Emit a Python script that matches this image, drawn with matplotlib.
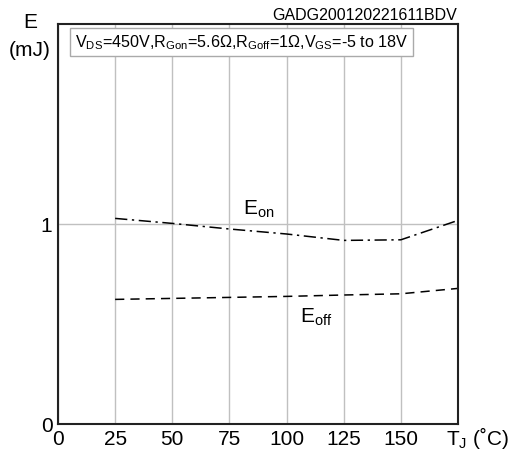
import numpy as np
import matplotlib.pyplot as plt

plt.rcParams['font.family'] = ['Liberation Sans', 'DejaVu Sans']
plt.rcParams['mathtext.fontset'] = 'custom'
plt.rcParams['mathtext.rm'] = 'Liberation Sans'
plt.rcParams['mathtext.it'] = 'Liberation Sans'

# data
tj = [25, 50, 75, 100, 125, 150, 175]
e_on = [1.028, 1.003, 0.975, 0.950, 0.918, 0.921, 1.018]
e_off = [0.623, 0.628, 0.633, 0.638, 0.645, 0.651, 0.678]
xticks = [0, 25, 50, 75, 100, 125, 150]
yticks = [0, 1]

fig = plt.figure(figsize=(5.09, 4.5), dpi=100)
ax = fig.add_axes([58/509, 26/450, 400/509, 400/450])

ax.plot(tj, e_on, color='black', lw=1.1, linestyle=(0, (8, 3, 1.5, 3)))
ax.plot(tj, e_off, color='black', lw=1.1, linestyle=(0, (6, 4)))

ax.set_xlim(0, 175)
ax.set_ylim(0, 2)
ax.set_xticks(xticks)
ax.set_yticks(yticks)
ax.tick_params(length=0, labelsize=15, pad=4)
ax.grid(color='#c0c0c0', lw=1)
for s in ax.spines.values():
    s.set_linewidth(1.5)
    s.set_color('#222222')

ax.text(81, 1.045, r'E$_{\mathrm{on}}$', fontsize=15)
ax.text(106, 0.505, r'E$_{\mathrm{off}}$', fontsize=15)

ax.text(0.042, 0.978,
        r'V$_{\mathrm{DS}}$=450V,R$_{\mathrm{Gon}}$=5.6Ω,R$_{\mathrm{Goff}}$=1Ω,V$_{\mathrm{GS}}$=-5 to 18V',
        transform=ax.transAxes, fontsize=11.6, va='top', ha='left',
        bbox=dict(boxstyle='square,pad=0.3', fc='white', ec='#aaaaaa', lw=1))

fig.text(30/509, 1 - 22/450, 'E', fontsize=15, ha='center', va='center')
fig.text(30/509, 1 - 50/450, '(mJ)', fontsize=15, ha='center', va='center')
fig.text(457/509, 1 - 16/450, 'GADG200120221611BDV', fontsize=11.5, ha='right', va='center')
fig.text(446/509, 1 - 438/450, r'T$_{\mathrm{J}}$ (˚C)', fontsize=15, ha='left', va='center')

fig.savefig('out.png', dpi=100)
